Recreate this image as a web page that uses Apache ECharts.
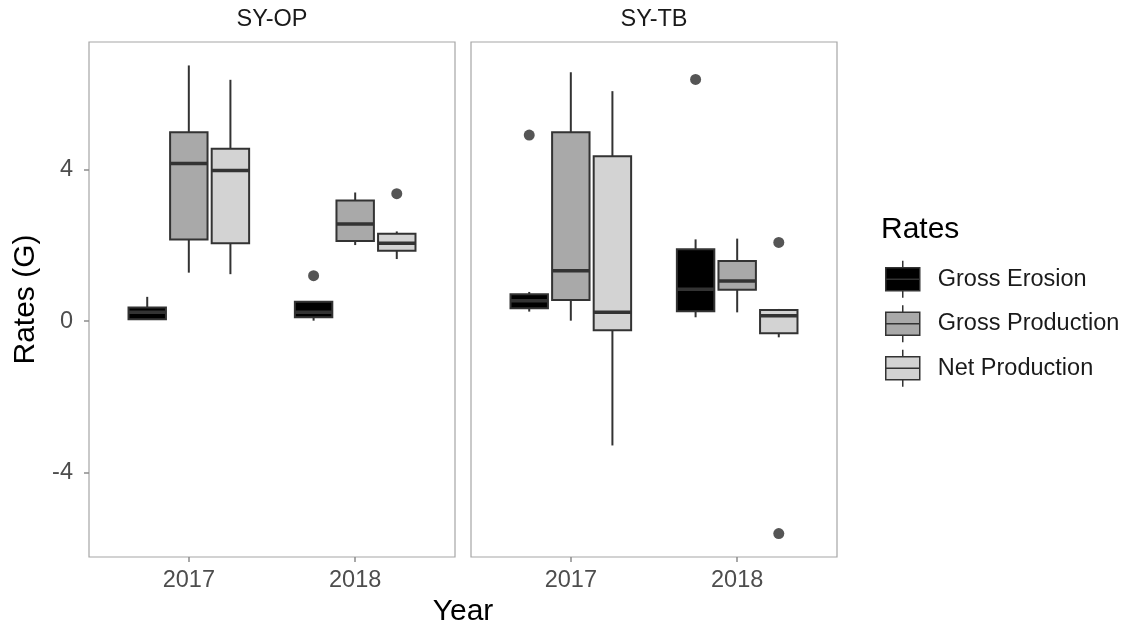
<!DOCTYPE html>
<html>
<head>
<meta charset="utf-8">
<script src="https://cdn.jsdelivr.net/npm/echarts@6/dist/echarts.min.js"></script>
<style>
  html, body { margin: 0; padding: 0; background: #ffffff; }
  #chart { width: 1126px; height: 628px; }
</style>
</head>
<body>
<div id="chart"></div>
<script>
// Facets, categories and groups
const facets = ['SY-OP', 'SY-TB'];
const years = ['2017', '2018'];
const groups = ['Gross Erosion', 'Gross Production', 'Net Production'];
const groupFills = ['#000000', '#a9a9a9', '#d3d3d3'];

// Box statistics per year: [lower whisker, Q1, median, Q3, upper whisker]
const opGrossErosion    = [[0.05, 0.05, 0.23, 0.36, 0.64], [0.01, 0.10, 0.23, 0.51, 0.51]];
const opGrossProduction = [[1.28, 2.16, 4.17, 4.99, 6.76], [2.01, 2.12, 2.57, 3.19, 3.40]];
const opNetProduction   = [[1.24, 2.06, 3.98, 4.56, 6.38], [1.64, 1.86, 2.06, 2.31, 2.37]];
const tbGrossErosion    = [[0.25, 0.34, 0.54, 0.71, 0.77], [0.10, 0.26, 0.84, 1.90, 2.16]];
const tbGrossProduction = [[0.01, 0.56, 1.33, 4.99, 6.58], [0.23, 0.83, 1.06, 1.59, 2.18]];
const tbNetProduction   = [[-3.29, -0.24, 0.23, 4.36, 6.08], [-0.43, -0.32, 0.14, 0.29, 0.32]];

// Outliers: [year index, group index, value]
const opOutliers = [[1, 0, 1.20], [1, 2, 3.37]];
const tbOutliers = [[0, 0, 4.92], [1, 0, 6.39], [1, 2, 2.08], [1, 2, -5.62]];

// Axis ticks
const yTicks = [-4, 0, 4];
const xTicks = [1, 2];

const facetBoxes = [
  [opGrossErosion, opGrossProduction, opNetProduction],
  [tbGrossErosion, tbGrossProduction, tbNetProduction]
];
const facetOutliers = [opOutliers, tbOutliers];

// Dodge layout: three boxes share 0.75 of a category, 10% padding each
const dodgeWidth = 0.75;
const slot = dodgeWidth / groups.length;
const boxWidth = slot * 0.9;
const groupOffset = g => (g - (groups.length - 1) / 2) * slot;

const FONT = 'Liberation Sans, Arial, Helvetica, sans-serif';
const EDGE = '#333333';
const TEXT_SIZE = 23.5;
const TITLE_SIZE = 30;

const grids = [
  { left: 89, top: 42, width: 366, height: 515 },
  { left: 471, top: 42, width: 366, height: 515 }
];

function renderBox(params, api) {
  const x = api.value(0);
  const lo = api.coord([x, api.value(1)]);
  const q1 = api.coord([x, api.value(2)]);
  const md = api.coord([x, api.value(3)]);
  const q3 = api.coord([x, api.value(4)]);
  const hi = api.coord([x, api.value(5)]);
  const half = api.size([boxWidth, 0])[0] / 2;
  const cx = md[0];
  const fill = api.visual('color');
  return {
    type: 'group',
    children: [
      { type: 'line', shape: { x1: cx, y1: q3[1], x2: cx, y2: hi[1] },
        style: { stroke: EDGE, lineWidth: 2 } },
      { type: 'line', shape: { x1: cx, y1: q1[1], x2: cx, y2: lo[1] },
        style: { stroke: EDGE, lineWidth: 2 } },
      { type: 'rect', shape: { x: cx - half, y: q3[1], width: half * 2, height: q1[1] - q3[1] },
        style: { fill: fill, stroke: EDGE, lineWidth: 2 } },
      { type: 'line', shape: { x1: cx - half, y1: md[1], x2: cx + half, y2: md[1] },
        style: { stroke: EDGE, lineWidth: 3.5 } }
    ]
  };
}

const xAxes = [], yAxes = [], series = [];
facets.forEach((f, fi) => {
  xAxes.push({
    gridIndex: fi, type: 'value', min: 0.4, max: 2.6,
    axisLine: { show: false, onZero: false },
    splitLine: { show: false },
    axisTick: { show: true, length: 5, customValues: xTicks, lineStyle: { color: '#8c8c8c', width: 1.5 } },
    axisLabel: {
      customValues: xTicks, margin: 12, color: '#4d4d4d', fontFamily: FONT, fontSize: TEXT_SIZE,
      formatter: v => years[Math.round(v) - 1] || ''
    }
  });
  yAxes.push({
    gridIndex: fi, type: 'value', min: -6.24, max: 7.38,
    axisLine: { show: false, onZero: false },
    splitLine: { show: false },
    axisTick: { show: fi === 0, length: 5, customValues: yTicks, lineStyle: { color: '#8c8c8c', width: 1.5 } },
    axisLabel: {
      show: fi === 0, customValues: yTicks, margin: 16, color: '#4d4d4d', fontFamily: FONT, fontSize: TEXT_SIZE
    },
    name: fi === 0 ? 'Rates (G)' : '',
    nameLocation: 'middle', nameGap: 48, nameRotate: 90,
    nameTextStyle: { color: '#000', fontFamily: FONT, fontSize: TITLE_SIZE }
  });
  groups.forEach((g, gi) => {
    const data = facetBoxes[fi][gi].map((s, yi) => [yi + 1 + groupOffset(gi)].concat(s));
    series.push({
      name: g, type: 'custom', xAxisIndex: fi, yAxisIndex: fi,
      itemStyle: { color: groupFills[gi] },
      encode: { x: 0, y: [1, 2, 3, 4, 5] },
      renderItem: renderBox,
      data: data, z: 2
    });
  });
  series.push({
    name: 'outliers-' + f, type: 'scatter', xAxisIndex: fi, yAxisIndex: fi,
    symbol: 'circle', symbolSize: 11,
    itemStyle: { color: '#2b2b2b' },
    data: facetOutliers[fi].map(o => [o[0] + 1 + groupOffset(o[1]), o[2]]),
    z: 3
  });
});

// Legend key: whiskers above and below a split box
const keyIcon = 'path://M17,0L17,7M0,7L34,7L34,18.5L0,18.5ZM0,18.5L34,18.5L34,30L0,30ZM17,30L17,37';

const option = {
  backgroundColor: '#ffffff',
  animation: false,
  grid: grids.map(g => Object.assign({ show: true, borderColor: '#a6a6a6', borderWidth: 1.2, backgroundColor: '#ffffff' }, g)),
  xAxis: xAxes,
  yAxis: yAxes,
  legend: {
    orient: 'vertical', left: 885, top: 260, padding: 0,
    itemWidth: 34, itemHeight: 37, itemGap: 6,
    textStyle: { color: '#1a1a1a', fontFamily: FONT, fontSize: TEXT_SIZE, padding: [0, 0, 0, 13] },
    data: groups.map((g, gi) => ({
      name: g, icon: keyIcon,
      itemStyle: { color: groupFills[gi], borderColor: EDGE, borderWidth: 1.5 }
    }))
  },
  // Strip labels and shared axis titles placed by computed centres
  graphic: [
    { type: 'text', x: grids[0].left + grids[0].width / 2, y: 20,
      style: { text: facets[0], fill: '#1a1a1a', font: TEXT_SIZE + 'px ' + FONT, align: 'center', verticalAlign: 'middle' } },
    { type: 'text', x: grids[1].left + grids[1].width / 2, y: 20,
      style: { text: facets[1], fill: '#1a1a1a', font: TEXT_SIZE + 'px ' + FONT, align: 'center', verticalAlign: 'middle' } },
    { type: 'text', x: (grids[0].left + grids[1].left + grids[1].width) / 2, y: 612,
      style: { text: 'Year', fill: '#000', font: TITLE_SIZE + 'px ' + FONT, align: 'center', verticalAlign: 'middle' } },
    { type: 'text', x: 881, y: 230,
      style: { text: 'Rates', fill: '#000', font: TITLE_SIZE + 'px ' + FONT, align: 'left', verticalAlign: 'middle' } }
  ],
  series: series
};

const chart = echarts.init(document.getElementById('chart'), null, { renderer: 'canvas' });
chart.setOption(option);
</script>
</body>
</html>
